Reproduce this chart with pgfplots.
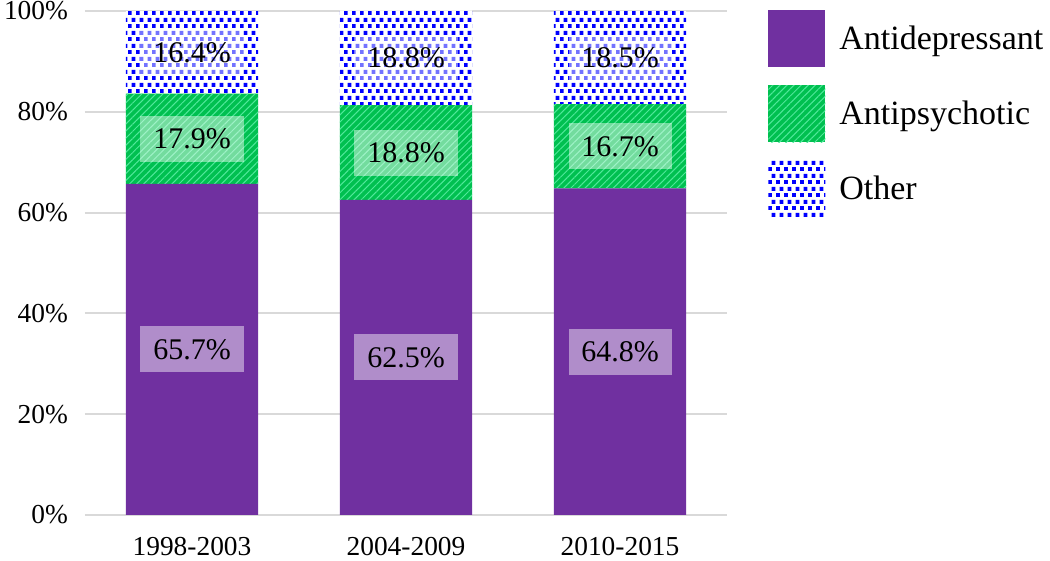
\documentclass[border=0pt]{standalone}
\usepackage{fontspec}
\setmainfont{Liberation Serif}
\usepackage{pgfplots}
\pgfplotsset{compat=1.18}
\usepackage{pgfplotstable}
\usetikzlibrary{patterns.meta}

\definecolor{adpurple}{HTML}{7030A0}
\definecolor{apgreen}{HTML}{00C050}
\definecolor{apstripe}{HTML}{50E89A}
\definecolor{otblue}{HTML}{0000FF}

\tikzdeclarepattern{
  name=bluesq,
  type=uncolored,
  bounding box={(0,0) and (4pt,6.5pt)},
  tile size={(4pt,6.5pt)},
  code={
    \fill (0pt,0pt) rectangle (2.1pt,2.1pt);
    \fill (2pt,3.25pt) rectangle (4.1pt,5.35pt);
  }
}

% shares in percent, one table per class
\pgfplotstableread{
x y
0 65.7
1 62.5
2 64.8
}\antidep
\pgfplotstableread{
x y
0 17.9
1 18.8
2 16.7
}\antipsy
\pgfplotstableread{
x y
0 16.4
1 18.8
2 18.5
}\other

\begin{document}
\begin{tikzpicture}
\begin{axis}[
  scale only axis,
  width=321pt, height=252pt,
  ybar stacked, bar width=0.617,
  xmin=-0.5, xmax=2.5, ymin=0, ymax=100,
  clip=false,
  xtick={0,1,2}, xticklabels={1998-2003,2004-2009,2010-2015},
  ytick={0,20,...,100},
  yticklabel={\pgfmathprintnumber{\tick}\%},
  /pgf/number format/assume math mode=true,
  axis line style={draw=none}, major tick length=0pt,
  ymajorgrids, grid style={draw=black!15, line width=1pt},
  tick label style={font=\fontsize{13.7}{14}\selectfont},
  yticklabel style={xshift=-5pt},
  xticklabel style={yshift=-7.5pt},
  nodes near coords={\pgfmathprintnumber[fixed,fixed zerofill,precision=1]{\pgfplotspointmeta}\%},
  every node near coord/.append style={
    anchor=center,
    fill=white, fill opacity=0.45, text opacity=1, text=black,
    minimum width=51.5pt, minimum height=23pt, inner sep=0pt,
    font=\fontsize{15}{15}\selectfont},
  legend image code/.code={%
    \draw[#1, draw=none] (0pt,-14.25pt) rectangle (28.5pt,14.25pt);
    \path (33.5pt,0pt);},
  legend style={draw=none, fill=none, at={(1,1)}, anchor=north west,
    xshift=20.5pt, yshift=0.5pt, row sep=9pt, inner sep=0pt,
    font=\fontsize{17}{17}\selectfont},
  legend cell align=left,
]
\addplot[fill=adpurple, draw=none] table[x=x, y=y, meta=y] {\antidep};
\addplot[fill=apgreen, draw=none,
  postaction={pattern={Lines[angle=45, distance=2.5pt, line width=0.5pt]}, pattern color=apstripe}]
  table[x=x, y=y, meta=y] {\antipsy};
\addplot[fill=white, draw=none,
  postaction={pattern=bluesq, pattern color=otblue}]
  table[x=x, y=y, meta=y] {\other};
\legend{Antidepressant,Antipsychotic,Other}
\coordinate (ll) at (rel axis cs:0,0);
\coordinate (ur) at (rel axis cs:1,1);
\end{axis}
\pgfresetboundingbox
\path ([shift={(-42.5pt,-23pt)}]ll) rectangle ([shift={(161.5pt,5.5pt)}]ur);
\end{tikzpicture}
\end{document}
